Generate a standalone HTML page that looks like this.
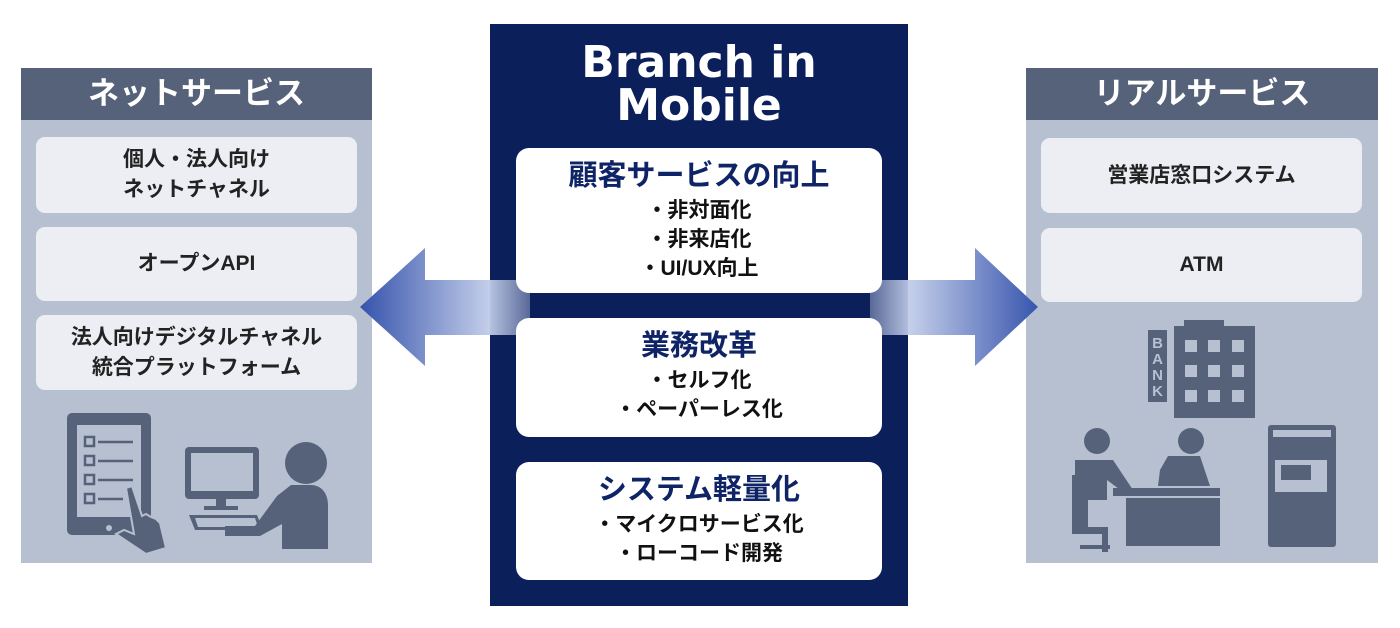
<!DOCTYPE html>
<html><head><meta charset="utf-8"><style>
body{margin:0;width:1400px;height:628px;background:#fff;position:relative;overflow:hidden;font-family:"Liberation Sans","Noto Sans CJK JP",sans-serif;font-weight:bold}
.abs{position:absolute}
.panel{position:absolute;background:#b6c0d0}
.hdr{position:absolute;left:0;right:0;top:0;height:52px;background:#56627a;color:#fff;font-size:31px;text-align:center;line-height:52px}
.box{position:absolute;background:#eceef3;border-radius:9px;color:#222;font-size:21px;text-align:center;display:flex;align-items:center;justify-content:center;line-height:30px}
.cbox{position:absolute;width:366px;left:516px;background:#fff;border-radius:13px;text-align:center;color:#111;z-index:3}
.cbox h3{margin:0;color:#0f2466;font-size:29px;line-height:40px;margin-top:8px}
.cbox div{font-size:21px;line-height:29px}
</style></head><body>
<div class="panel" style="left:21px;top:68px;width:351px;height:495px">
<div class="hdr">ネットサービス</div>
<div class="box" style="left:15px;top:69px;width:321px;height:76px">個人・法人向け<br>ネットチャネル</div>
<div class="box" style="left:15px;top:159px;width:321px;height:74px">オープンAPI</div>
<div class="box" style="left:15px;top:247px;width:321px;height:75px">法人向けデジタルチャネル<br>統合プラットフォーム</div>
<svg class="abs" style="left:0;top:332px" width="351" height="163" viewBox="20 400 351 163">
<g fill="#56627a">
<rect x="66" y="413" width="84" height="122" rx="5"/>
<rect x="76" y="425" width="64" height="92" fill="#b6c0d0"/>
<circle cx="108" cy="528" r="3" fill="#b6c0d0"/>
<g fill="none" stroke="#56627a" stroke-width="2.5">
<rect x="84" y="437" width="9" height="9"/><rect x="84" y="456" width="9" height="9"/><rect x="84" y="475" width="9" height="9"/><rect x="84" y="494" width="9" height="9"/>
<path d="M97 442h35M97 461h35M97 480h35M97 499h25"/></g>
<path d="M125 488l6-2 10 30 4-2 5 3 5 2 4 4 6 25-20 6-30-20 8-4 10 4z" stroke="#b6c0d0" stroke-width="2"/>
<rect x="184" y="447" width="74" height="52" rx="4"/>
<rect x="190" y="453" width="62" height="38" fill="#b6c0d0"/>
<rect x="215" y="499" width="10" height="8"/><rect x="203" y="506" width="34" height="4"/>
<path d="M188 515h68l6 15h-68z"/><path d="M194 518h60l3 9h-60z" fill="#b6c0d0"/>
<circle cx="305" cy="463" r="21"/>
<path d="M290 485h20c10 0 17 8 17 20v44h-46v-25l-22 12h-35v-10h30l22-30z"/>
</g></svg>
</div>
<div class="panel" style="left:1026px;top:68px;width:352px;height:495px">
<div class="hdr">リアルサービス</div>
<div class="box" style="left:15px;top:70px;width:321px;height:75px">営業店窓口システム</div>
<div class="box" style="left:15px;top:160px;width:321px;height:74px">ATM</div>
<svg class="abs" style="left:0;top:242px" width="352" height="253" viewBox="1026 310 352 253">
<g fill="#56627a">
<rect x="1148" y="330" width="19" height="72"/>
<text x="1157.5" y="348" font-size="15" fill="#b6c0d0" text-anchor="middle" font-family="Liberation Sans">B</text>
<text x="1157.5" y="364" font-size="15" fill="#b6c0d0" text-anchor="middle" font-family="Liberation Sans">A</text>
<text x="1157.5" y="380" font-size="15" fill="#b6c0d0" text-anchor="middle" font-family="Liberation Sans">N</text>
<text x="1157.5" y="396" font-size="15" fill="#b6c0d0" text-anchor="middle" font-family="Liberation Sans">K</text>
<rect x="1184" y="320" width="40" height="8"/>
<rect x="1174" y="326" width="81" height="92"/>
<g fill="#b6c0d0"><rect x="1185" y="340" width="12" height="12"/><rect x="1208" y="340" width="12" height="12"/><rect x="1232" y="340" width="12" height="12"/>
<rect x="1185" y="365" width="12" height="12"/><rect x="1208" y="365" width="12" height="12"/><rect x="1232" y="365" width="12" height="12"/>
<rect x="1185" y="390" width="12" height="12"/><rect x="1208" y="390" width="12" height="12"/><rect x="1232" y="390" width="12" height="12"/></g>
<rect x="1268" y="425" width="68" height="122" rx="3"/>
<rect x="1273" y="430" width="58" height="7" fill="#b6c0d0"/>
<rect x="1275" y="460" width="52" height="32" fill="#b6c0d0"/>
<rect x="1281" y="465" width="30" height="15"/>
<circle cx="1097" cy="441" r="13"/><circle cx="1191" cy="441" r="13"/>
<path d="M1075 460h38l20 30-6 5-20-15v20h-32z"/>
<path d="M1160 470l8-14h32l10 30h-52z"/>
<rect x="1113" y="488" width="107" height="8"/>
<rect x="1126" y="498" width="94" height="48"/>
<path d="M1072 475h16v52h20v25h-6v-18h-30z"/>
<rect x="1080" y="545" width="30" height="4"/>
</g></svg>
</div>
<div class="abs" style="left:490px;top:24px;width:418px;height:582px;background:#0b1f5b">
<div style="color:#fff;font-size:44px;text-align:center;line-height:43px;margin-top:17px;font-family:'DejaVu Sans','Noto Sans CJK JP',sans-serif">Branch in<br>Mobile</div>
</div>
<svg class="abs" style="left:0;top:0;z-index:2" width="1400" height="628">
<defs>
<linearGradient id="gl" x1="360" x2="540" y1="0" y2="0" gradientUnits="userSpaceOnUse"><stop offset="0" stop-color="#3553ac"/><stop offset="0.7" stop-color="#c0cbe8"/><stop offset="1" stop-color="#c0cbe8" stop-opacity="0.3"/></linearGradient>
<linearGradient id="gr" x1="1040" x2="860" y1="0" y2="0" gradientUnits="userSpaceOnUse"><stop offset="0" stop-color="#3553ac"/><stop offset="0.7" stop-color="#c0cbe8"/><stop offset="1" stop-color="#c0cbe8" stop-opacity="0.3"/></linearGradient>
</defs>
<path d="M360 307L425 248V280H530V335H425V366Z" fill="url(#gl)"/>
<path d="M1038 307L975 248V280H870V335H975V366Z" fill="url(#gr)"/>
</svg>
<div class="cbox" style="top:148px;height:145px"><h3>顧客サービスの向上</h3><div>・非対面化<br>・非来店化<br>・UI/UX向上</div></div>
<div class="cbox" style="top:318px;height:119px"><h3>業務改革</h3><div>・セルフ化<br>・ペーパーレス化</div></div>
<div class="cbox" style="top:462px;height:118px"><h3>システム軽量化</h3><div>・マイクロサービス化<br>・ローコード開発</div></div>
</body></html>
